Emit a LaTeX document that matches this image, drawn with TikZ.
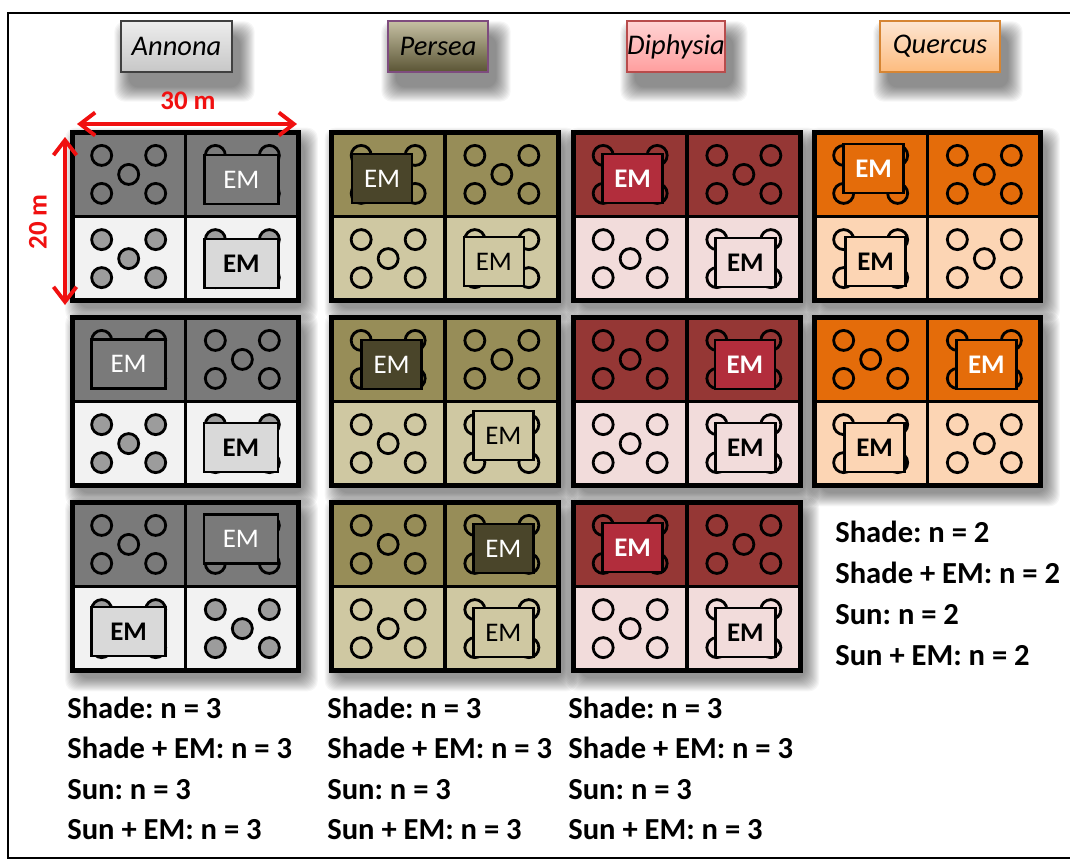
\documentclass[tikz,border=0pt]{standalone}
\usepackage{fontspec}
\setmainfont{Carlito}
\usepackage{xcolor}
\definecolor{annonadark}{HTML}{7A7A7A}
\definecolor{annonalight}{HTML}{F2F2F2}
\definecolor{annonaem}{HTML}{D9D9D9}
\definecolor{annonatree}{HTML}{9C9C9C}
\definecolor{perseadark}{HTML}{978D58}
\definecolor{persealight}{HTML}{CFC8A2}
\definecolor{perseaem}{HTML}{4A452A}
\definecolor{diphysiadark}{HTML}{953735}
\definecolor{diphysialight}{HTML}{F2DCDB}
\definecolor{diphysiaem}{HTML}{B22D3C}
\definecolor{quercusdark}{HTML}{E46C0A}
\definecolor{quercuslight}{HTML}{FCD5B4}
\definecolor{scalered}{HTML}{F01010}
\usepackage{tikz}
\usetikzlibrary{arrows.meta,positioning,calc,backgrounds}

\newcommand{\softshadow}[4]{%
  \begin{scope}[on background layer]
    \foreach \s in {0,...,#4}
      \fill[black, opacity=0.035, rounded corners=6pt] ($(#1.north west)+(#2-\s,#3-\s)$) rectangle ($(#1.south east)+(#2+\s,#3+\s)$);
  \end{scope}
}

\newcommand{\plotgrid}[6]{%
  \node[plot] (#1) at (#2) {};
  \softshadow{#1}{6}{8}{13}
  \node[quad, fill=#3, anchor=south east] (#1-tl) at (#1.center) {};
  \node[quad, fill=#3, anchor=south west] (#1-tr) at (#1.center) {};
  \node[quad, fill=#4, anchor=north east] (#1-bl) at (#1.center) {};
  \node[quad, fill=#4, anchor=north west] (#1-br) at (#1.center) {};
  \draw[divider] (#1.north) -- (#1.south);
  \draw[divider] (#1.west) -- (#1.east);
  \draw[frame] (#1.north west) rectangle (#1.south east);
  \foreach \q/\f in {tl/#5, tr/#5, bl/#6, br/#6}
    \foreach \dx/\dy in {-27/-19, 27/-19, 0/0, -27/19, 27/19}
      \draw[tree, fill=\f] ($(#1-\q)+(\dx,\dy)$) circle[radius=0.2cm];
}

\begin{document}
\frenchspacing
\begin{tikzpicture}[
  x=0.02cm, y=-0.02cm,
  plot/.style={minimum width=4.52cm, minimum height=3.34cm, inner sep=0pt},
  quad/.style={minimum width=2.26cm, minimum height=1.67cm, inner sep=0pt},
  divider/.style={line width=2.2pt},
  frame/.style={line width=2.8pt},
  tree/.style={draw=black, line width=1.6pt},
  em/.style={draw=black, line width=1.5pt, minimum width=1.2cm, minimum height=0.98cm, inner sep=0pt, font=\fontsize{15.3}{16}\selectfont},
  em wide/.style={minimum width=1.48cm},
  em bold/.style={font=\fontsize{15.3}{16}\selectfont\bfseries},
  em white/.style={text=white},
  title/.style={draw=black!75, line width=0.8pt, minimum height=1.02cm, inner sep=0pt, font=\fontsize{16.2}{18}\selectfont\itshape},
  scale arrow/.style={{Straight Barb[length=3mm, width=4.6mm]}-{Straight Barb[length=3mm, width=4.6mm]}, line width=2.2pt, color=scalered},
  scale label/.style={text=scalered, inner sep=0pt, font=\fontsize{15.3}{16}\selectfont\bfseries},
  count/.style={anchor=base west, inner sep=0pt, font=\fontsize{17.4}{20}\selectfont\bfseries}
]
\useasboundingbox (0,0) rectangle (1070,863);
\begin{scope}[on background layer]
  \fill[white] (0,0) rectangle (1070,863);
\end{scope}
\draw[line width=1.1pt] (1070,13) -- (8,13) -- (8,858) -- (1070,858);

\node[title, minimum width=2.22cm, top color=white!93!black, bottom color=white!78!black] (annona) at (176.5,46.5) {Annona};
\node[title, minimum width=2.0cm, draw=violet!55!black!70, top color=perseadark!55, bottom color=perseadark!60!black] (persea) at (438,46.5) {Persea};
\node[title, minimum width=1.84cm, draw=red!60!black!70, top color=red!17, bottom color=red!38] (diphysia) at (676,46.5) {Diphysia};
\node[title, minimum width=2.4cm, draw=orange!80!black!80, top color=quercuslight!60, bottom color=quercuslight!70!orange] (quercus) at (940,46.5) {Quercus};
\foreach \genus in {annona, persea, diphysia, quercus}
  {\softshadow{\genus}{8}{15}{14}}

\plotgrid{a1}{185.5,216.5}{annonadark}{annonalight}{none}{annonatree}
\plotgrid{a2}{185.5,401.5}{annonadark}{annonalight}{none}{annonatree}
\plotgrid{a3}{185.5,586.5}{annonadark}{annonalight}{none}{annonatree}
\plotgrid{p1}{445,216.5}{perseadark}{persealight}{none}{none}
\plotgrid{p2}{445,401.5}{perseadark}{persealight}{none}{none}
\plotgrid{p3}{445,586.5}{perseadark}{persealight}{none}{none}
\plotgrid{d1}{687,216.5}{diphysiadark}{diphysialight}{none}{none}
\plotgrid{d2}{687,401.5}{diphysiadark}{diphysialight}{none}{none}
\plotgrid{d3}{687,586.5}{diphysiadark}{diphysialight}{none}{none}
\plotgrid{q1}{927.5,216.5}{quercusdark}{quercuslight}{none}{none}
\plotgrid{q2}{927.5,401.5}{quercusdark}{quercuslight}{none}{none}

\node[em, em wide, fill=annonadark, em white] (a1-em1) at ($(a1-tr)+(-1,5)$) {EM};
\node[em, em wide, fill=annonaem, em bold] (a1-em2) at ($(a1-br)+(-1,5)$) {EM};
\node[em, em wide, fill=annonadark, em white] (a2-em1) at ($(a2-tl)+(0,4.5)$) {EM};
\node[em, em wide, fill=annonaem, em bold] (a2-em2) at ($(a2-br)+(-1.5,4)$) {EM};
\node[em, em wide, fill=annonadark, em white] (a3-em1) at ($(a3-tr)+(-1.5,-5.5)$) {EM};
\node[em, em wide, fill=annonaem, em bold] (a3-em2) at ($(a3-bl)+(0,3)$) {EM};
\node[em, fill=perseaem, em white] (p1-em1) at ($(p1-tl)+(-6,4)$) {EM};
\node[em, fill=persealight] (p1-em2) at ($(p1-br)+(-8,3)$) {EM};
\node[em, fill=perseaem, em white] (p2-em1) at ($(p2-tl)+(3.5,5)$) {EM};
\node[em, fill=persealight] (p2-em2) at ($(p2-br)+(1.5,-8)$) {EM};
\node[em, fill=perseaem, em white] (p3-em1) at ($(p3-tr)+(1.5,4)$) {EM};
\node[em, fill=persealight] (p3-em2) at ($(p3-br)+(1.5,4)$) {EM};
\node[em, fill=diphysiaem, em white, em bold] (d1-em1) at ($(d1-tl)+(2.5,4)$) {EM};
\node[em, fill=diphysialight, em bold] (d1-em2) at ($(d1-br)+(1.5,4)$) {EM};
\node[em, fill=diphysiaem, em white, em bold] (d2-em1) at ($(d2-tr)+(1,5)$) {EM};
\node[em, fill=diphysialight, em bold] (d2-em2) at ($(d2-br)+(1.5,4)$) {EM};
\node[em, fill=diphysiaem, em white, em bold] (d3-em1) at ($(d3-tl)+(2.5,3)$) {EM};
\node[em, fill=diphysialight, em bold] (d3-em2) at ($(d3-br)+(1.5,4)$) {EM};
\node[em, fill=quercusdark, em white, em bold] (q1-em1) at ($(q1-tl)+(3,-6)$) {EM};
\node[em, fill=quercuslight, em bold] (q1-em2) at ($(q1-bl)+(5,3)$) {EM};
\node[em, fill=quercusdark, em white, em bold] (q2-em1) at ($(q2-tr)+(2,5)$) {EM};
\node[em, fill=quercuslight, em bold] (q2-em2) at ($(q2-bl)+(4,4)$) {EM};

\coordinate (wl) at (77,124);
\coordinate (wr) at (297,124);
\coordinate (ht) at (65,137);
\coordinate (hb) at (65,305);
\draw[scale arrow] (wl) -- (wr);
\draw[scale arrow] (ht) -- (hb);
\node[scale label] (width) at (188,101) {30 m};
\node[scale label, rotate=90] (height) at (38,222) {20 m};

\foreach \col/\x in {a/67, p/327, d/568}
  \foreach \txt [count=\i] in {{Shade: n = 3}, {Shade + EM: n = 3}, {Sun: n = 3}, {Sun + EM: n = 3}}
    \node[count] (\col-n\i) at (\x,677.5+40.5*\i) {\txt};
\foreach \txt [count=\i] in {{Shade: n = 2}, {Shade + EM: n = 2}, {Sun: n = 2}, {Sun + EM: n = 2}}
  \node[count] (q-n\i) at (835,501+41*\i) {\txt};
\end{tikzpicture}
\end{document}
